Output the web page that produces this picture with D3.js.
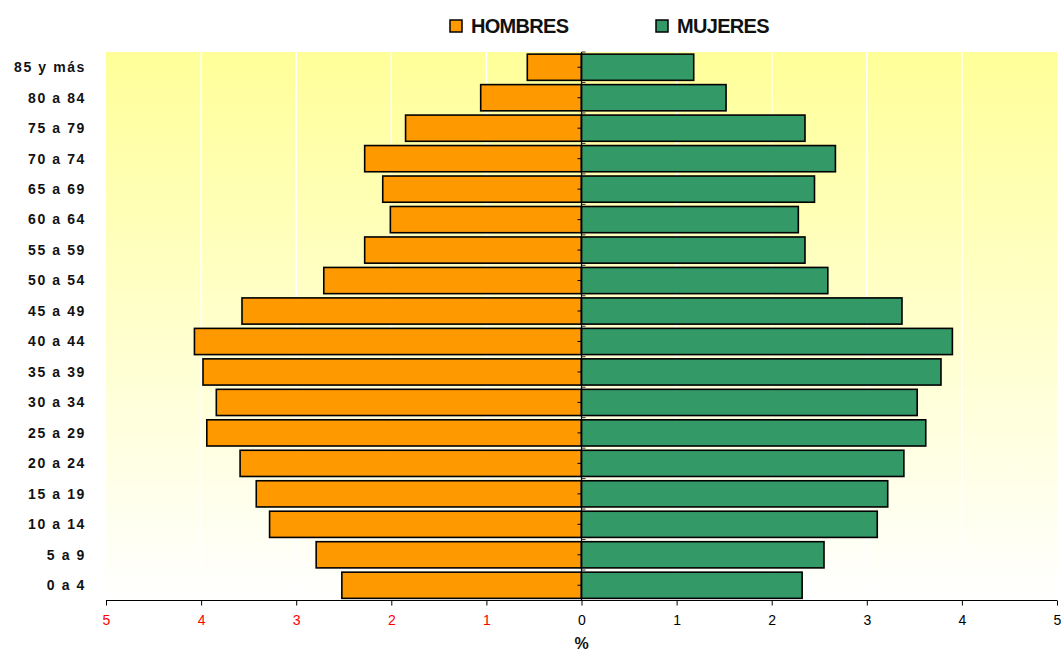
<!DOCTYPE html>
<html><head><meta charset="utf-8">
<script src="https://cdn.jsdelivr.net/npm/d3@7"></script>
<style>body{margin:0;background:#fff;}svg{display:block;font-family:"Liberation Sans",Arial,sans-serif;}</style>
</head><body>
<svg id="c" width="1061" height="653"></svg>
<script>
const categories = ["85 y más","80 a 84","75 a 79","70 a 74","65 a 69","60 a 64","55 a 59","50 a 54","45 a 49","40 a 44","35 a 39","30 a 34","25 a 29","20 a 24","15 a 19","10 a 14","5 a 9","0 a 4"];
const hombres = [0.57,1.06,1.85,2.28,2.09,2.01,2.28,2.71,3.57,4.07,3.98,3.84,3.94,3.59,3.42,3.28,2.79,2.52];
const mujeres = [1.18,1.52,2.35,2.67,2.45,2.28,2.35,2.59,3.37,3.90,3.78,3.53,3.62,3.39,3.22,3.11,2.55,2.32];
const tickValues = [-5,-4,-3,-2,-1,0,1,2,3,4,5];
const seriesNames = ["HOMBRES","MUJERES"];
const colors = ["#FF9900","#339966"];

const svg = d3.select("#c");
const L = 106, R = 1057, T = 52, B = 600.5;
const x = d3.scaleLinear().domain([-5,5]).range([L,R]);
const y = d3.scaleBand().domain(categories).range([T,B]).paddingInner(0.14).paddingOuter(0.07);

const defs = svg.append("defs");
const g1 = defs.append("linearGradient").attr("id","bg").attr("x1",0).attr("y1",0).attr("x2",0).attr("y2",1);
g1.append("stop").attr("offset","0%").attr("stop-color","#FFFF99");
g1.append("stop").attr("offset","100%").attr("stop-color","#FFFFFF");

svg.append("rect").attr("x",L).attr("y",T).attr("width",R-L).attr("height",B-T).attr("fill","url(#bg)");

// gridlines
svg.append("g").selectAll("line").data(tickValues.filter(v=>v!==0 && Math.abs(v)!==5)).join("line")
  .attr("x1",d=>x(d)).attr("x2",d=>x(d)).attr("y1",T).attr("y2",B)
  .attr("stroke","#fff").attr("stroke-width",1.5);

const bars = svg.append("g");
bars.selectAll("rect.h").data(categories).join("rect").attr("class","h")
  .attr("x",(d,i)=>x(-hombres[i])).attr("width",(d,i)=>x(0)-x(-hombres[i]))
  .attr("y",d=>y(d)).attr("height",y.bandwidth())
  .attr("fill",colors[0]).attr("stroke","#000").attr("stroke-width",1.6);
bars.selectAll("rect.m").data(categories).join("rect").attr("class","m")
  .attr("x",x(0)).attr("width",(d,i)=>x(mujeres[i])-x(0))
  .attr("y",d=>y(d)).attr("height",y.bandwidth())
  .attr("fill",colors[1]).attr("stroke","#000").attr("stroke-width",1.6);

// center axis
svg.append("line").attr("x1",x(0)).attr("x2",x(0)).attr("y1",T).attr("y2",B).attr("stroke","#000").attr("stroke-width",1.2);
svg.append("g").selectAll("line").data(d3.range(categories.length+1)).join("line")
  .attr("x1",x(0)).attr("x2",x(0)+4).attr("y1",i=>T+i*(B-T)/categories.length).attr("y2",i=>T+i*(B-T)/categories.length)
  .attr("stroke","#333").attr("stroke-width",1);
svg.append("g").selectAll("line").data(categories).join("line")
  .attr("x1",x(0)-4).attr("x2",x(0)).attr("y1",d=>y(d)+y.bandwidth()/2).attr("y2",d=>y(d)+y.bandwidth()/2)
  .attr("stroke","#000").attr("stroke-width",1);

// category labels
svg.append("g").selectAll("text").data(categories).join("text")
  .attr("x",86).attr("y",d=>y(d)+y.bandwidth()/2).attr("dy","0.35em")
  .attr("text-anchor","end").attr("font-size",14).attr("font-weight","bold")
  .attr("letter-spacing",1.6).attr("fill","#111").text(d=>d);

// x axis
const xa = svg.append("g").attr("transform",`translate(0,${B})`)
  .call(d3.axisBottom(x).tickValues(tickValues).tickSize(5).tickPadding(10).tickFormat(d=>Math.abs(d)));
xa.attr("font-size",14).attr("font-family","Liberation Sans, Arial, sans-serif");
xa.select(".domain").attr("stroke","#000").attr("stroke-width",1.2).attr("d",`M${L},0H${R}`);
xa.selectAll(".tick line").attr("stroke","#000");
xa.selectAll(".tick text").attr("font-size",14).attr("fill",d=>d<0?"#FF0000":"#000");

svg.append("text").attr("x",x(0)).attr("y",649).attr("text-anchor","middle")
  .attr("font-size",16).attr("font-weight","bold").attr("fill","#111").text("%");

// legend
const lg = svg.append("g");
const lx = [450,656];
seriesNames.forEach((n,i)=>{
  lg.append("rect").attr("x",lx[i]).attr("y",20).attr("width",12).attr("height",12)
    .attr("fill",colors[i]).attr("stroke","#000").attr("stroke-width",1.5);
  lg.append("text").attr("x",lx[i]+21).attr("y",33).attr("font-size",20).attr("font-weight","bold")
    .attr("letter-spacing",-0.7).attr("fill","#111").text(n);
});
</script>
</body></html>
